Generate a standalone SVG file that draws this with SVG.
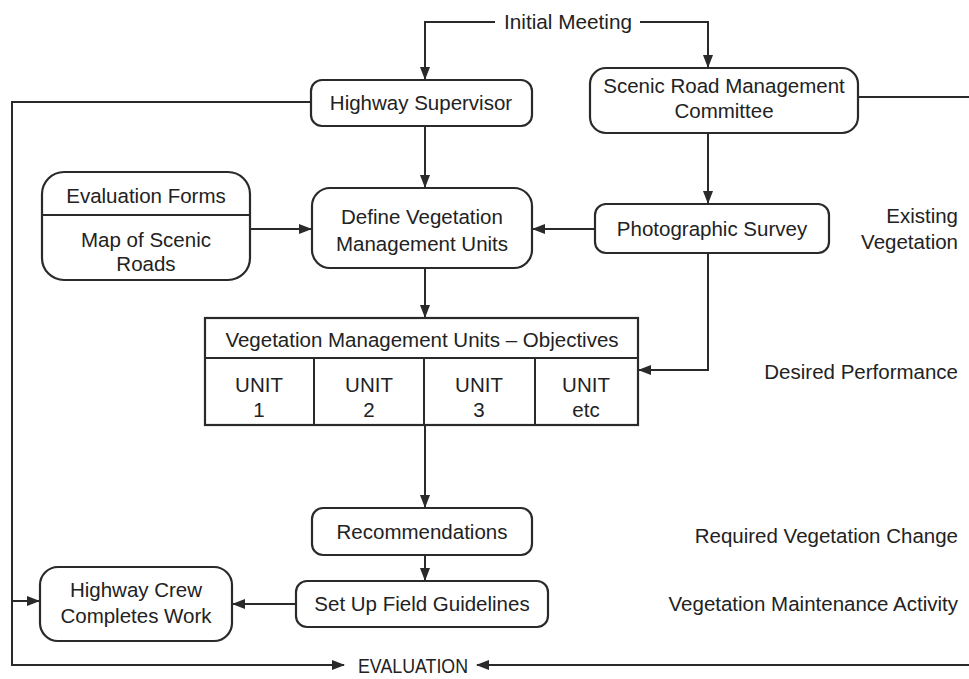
<svg xmlns="http://www.w3.org/2000/svg" width="969" height="679" viewBox="0 0 969 679">
<style>
.box{fill:#fff;stroke:#2a2a2a;stroke-width:2.2}
.ln{fill:none;stroke:#2a2a2a;stroke-width:2}
text{font-family:"Liberation Sans",Arial,sans-serif;font-size:20.5px;fill:#222}
.c{text-anchor:middle}
.r{text-anchor:end}
</style>
<defs>
<marker id="ah" viewBox="0 0 13 10" refX="12" refY="5" markerWidth="13" markerHeight="10" markerUnits="userSpaceOnUse" orient="auto">
<path d="M0,0 L13,5 L0,10 Z" fill="#2a2a2a"/>
</marker>
</defs>
<rect width="969" height="679" fill="#fff"/>
<g id="connectors">
<path class="ln" d="M495,22 H425 V79" marker-end="url(#ah)"/>
<path class="ln" d="M640,22 H708 V67" marker-end="url(#ah)"/>
<path class="ln" d="M311,102 H12 V665 H344" marker-end="url(#ah)"/>
<path class="ln" d="M12,601 H39" marker-end="url(#ah)"/>
<path class="ln" d="M969,665 H477" marker-end="url(#ah)"/>
<path class="ln" d="M858,97 H969"/>
<path class="ln" d="M425,126 V187" marker-end="url(#ah)"/>
<path class="ln" d="M708,133 V203" marker-end="url(#ah)"/>
<path class="ln" d="M250,229 H311" marker-end="url(#ah)"/>
<path class="ln" d="M595,229 H533" marker-end="url(#ah)"/>
<path class="ln" d="M708,253 V370 H639" marker-end="url(#ah)"/>
<path class="ln" d="M425,268 V317" marker-end="url(#ah)"/>
<path class="ln" d="M425,425 V507" marker-end="url(#ah)"/>
<path class="ln" d="M425,555 V580" marker-end="url(#ah)"/>
<path class="ln" d="M296,604 H233" marker-end="url(#ah)"/>
</g>
<g id="initial-meeting"><text class="c" x="568" y="29" textLength="128" lengthAdjust="spacingAndGlyphs">Initial Meeting</text></g>
<g id="highway-supervisor">
<rect class="box" x="311" y="80" width="221" height="46" rx="11"/>
<text class="c" x="421" y="110">Highway Supervisor</text>
</g>
<g id="scenic-committee">
<rect class="box" x="590" y="68" width="268" height="65" rx="16"/>
<text class="c" x="724" y="93">Scenic Road Management</text>
<text class="c" x="724" y="118">Committee</text>
</g>
<g id="evaluation-forms">
<rect class="box" x="42" y="172" width="208" height="108" rx="22"/>
<line class="ln" x1="42" y1="215" x2="250" y2="215"/>
<text class="c" x="146" y="203">Evaluation Forms</text>
<text class="c" x="146" y="247">Map of Scenic</text>
<text class="c" x="146" y="271">Roads</text>
</g>
<g id="define-units">
<rect class="box" x="312" y="188" width="220" height="80" rx="18"/>
<text class="c" x="422" y="224">Define Vegetation</text>
<text class="c" x="422" y="251">Management Units</text>
</g>
<g id="photographic-survey">
<rect class="box" x="595" y="204" width="234" height="49" rx="11"/>
<text class="c" x="712" y="236">Photographic Survey</text>
</g>
<g id="existing-vegetation">
<text class="r" x="958" y="223">Existing</text>
<text class="r" x="958" y="249">Vegetation</text>
</g>
<g id="objectives-table">
<rect class="box" x="205" y="318" width="433" height="107"/>
<line class="ln" x1="205" y1="358" x2="638" y2="358"/>
<line class="ln" x1="314" y1="358" x2="314" y2="425"/>
<line class="ln" x1="424" y1="358" x2="424" y2="425"/>
<line class="ln" x1="535" y1="358" x2="535" y2="425"/>
<text class="c" x="422" y="347">Vegetation Management Units – Objectives</text>
<text class="c" x="259" y="392">UNIT</text><text class="c" x="259" y="417">1</text>
<text class="c" x="369" y="392">UNIT</text><text class="c" x="369" y="417">2</text>
<text class="c" x="479" y="392">UNIT</text><text class="c" x="479" y="417">3</text>
<text class="c" x="586" y="392">UNIT</text><text class="c" x="586" y="417">etc</text>
</g>
<g id="desired-performance"><text class="r" x="958" y="379">Desired Performance</text></g>
<g id="recommendations">
<rect class="box" x="312" y="508" width="220" height="47" rx="11"/>
<text class="c" x="422" y="539">Recommendations</text>
</g>
<g id="required-change"><text class="r" x="958" y="543">Required Vegetation Change</text></g>
<g id="field-guidelines">
<rect class="box" x="296" y="581" width="252" height="46" rx="11"/>
<text class="c" x="422" y="611">Set Up Field Guidelines</text>
</g>
<g id="maintenance-activity"><text class="r" x="958" y="611">Vegetation Maintenance Activity</text></g>
<g id="highway-crew">
<rect class="box" x="40" y="567" width="192" height="74" rx="18"/>
<text class="c" x="136" y="597">Highway Crew</text>
<text class="c" x="136" y="623">Completes Work</text>
</g>
<g id="evaluation"><text class="c" x="413" y="673" textLength="110" lengthAdjust="spacingAndGlyphs">EVALUATION</text></g>
</svg>
